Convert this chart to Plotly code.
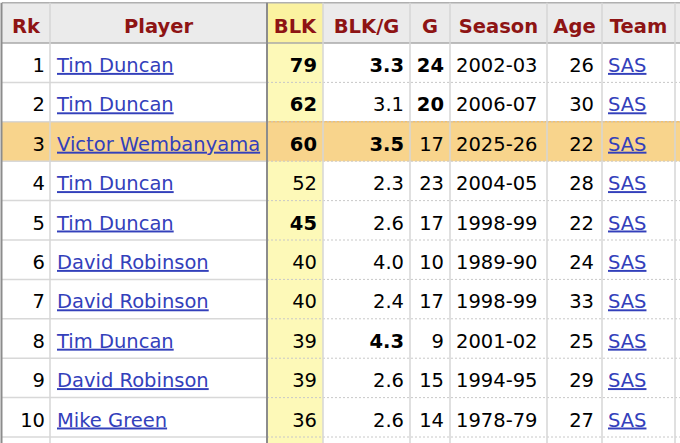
import plotly.graph_objects as go

# table data
rk = [1, 2, 3, 4, 5, 6, 7, 8, 9, 10]
players = ["Tim Duncan", "Tim Duncan", "Victor Wembanyama", "Tim Duncan", "Tim Duncan",
           "David Robinson", "David Robinson", "Tim Duncan", "David Robinson", "Mike Green"]
blk = [79, 62, 60, 52, 45, 40, 40, 39, 39, 36]
blk_per_g = [3.3, 3.1, 3.5, 2.3, 2.6, 4.0, 2.4, 4.3, 2.6, 2.6]
games = [24, 20, 17, 23, 17, 10, 17, 9, 15, 14]
seasons = ["2002-03", "2006-07", "2025-26", "2004-05", "1998-99",
           "1989-90", "1998-99", "2001-02", "1994-95", "1978-79"]
ages = [26, 30, 22, 28, 22, 24, 33, 25, 29, 27]
teams = ["SAS"] * 10
headers = ["Rk", "Player", "BLK", "BLK/G", "G", "Season", "Age", "Team"]

# which cells are shown in bold (leaders), and the highlighted row
blk_bold = [True, True, True, False, True, False, False, False, False, False]
bpg_bold = [True, False, True, False, False, False, False, True, False, False]
g_bold = [True, True, False, False, False, False, False, False, False, False]
current = [False, False, True, False, False, False, False, False, False, False]

# layout: column edges in px, rows in row units
edges = [2, 50, 267, 323, 410, 450, 547, 602, 675]
W, H = 680, 443
top = -0.52
bottom = 10.65
dy = 0.11  # nudge text down to sit like the browser baseline

FONT = "DejaVu Sans"
FS = 19.5
LINK = "#3340bb"
HEAD = "#8e1414"


def b(s, flag):
    return f"<b>{s}</b>" if flag else str(s)


def u(s):
    return f"<span style='text-decoration:underline'>{s}</span>"


fig = go.Figure()
shapes = []

# backgrounds
shapes.append(dict(type="rect", x0=edges[0], x1=W, y0=top, y1=0.5,
                   fillcolor="#ebebeb", line_width=0, layer="below"))
shapes.append(dict(type="rect", x0=edges[2], x1=edges[3], y0=top, y1=0.5,
                   fillcolor="#fbf2a0", line_width=0, layer="below"))
shapes.append(dict(type="rect", x0=edges[2], x1=edges[3], y0=0.5, y1=bottom,
                   fillcolor="#fdf9b8", line_width=0, layer="below"))
for r, cur in zip(rk, current):
    if cur:
        shapes.append(dict(type="rect", x0=edges[0], x1=W, y0=r - 0.5, y1=r + 0.5,
                           fillcolor="#f8d48c", line_width=0, layer="below"))
        shapes.append(dict(type="line", x0=edges[0], x1=W, y0=r - 0.5, y1=r - 0.5,
                           line=dict(color="#f0c070", width=1.5), layer="below"))

# horizontal rules
for r in rk:
    y = r + 0.5
    shapes.append(dict(type="line", x0=edges[0], x1=edges[2], y0=y, y1=y,
                       line=dict(color="#d8d8d8", width=1.5)))
    shapes.append(dict(type="line", x0=edges[2], x1=W, y0=y, y1=y,
                       line=dict(color="#c8c8c8", width=1, dash="2px,2px")))
shapes.append(dict(type="line", x0=edges[0], x1=W, y0=top, y1=top,
                   line=dict(color="#b0b0b0", width=1.5)))
shapes.append(dict(type="line", x0=edges[0], x1=W, y0=0.5, y1=0.5,
                   line=dict(color="#a8a8a8", width=1.5)))

# vertical rules
for i, x in enumerate(edges[1:], start=1):
    if i == 2:
        continue
    shapes.append(dict(type="line", x0=x, x1=x, y0=top, y1=bottom,
                       line=dict(color="#d6d6d6", width=1.5)))
shapes.append(dict(type="line", x0=edges[2], x1=edges[2], y0=top, y1=bottom,
                   line=dict(color="#8c8c8c", width=2)))
shapes.append(dict(type="line", x0=1.5, x1=1.5, y0=top, y1=bottom,
                   line=dict(color="#8c8c8c", width=2)))

# header labels
mids = [(edges[i] + edges[i + 1]) / 2 for i in range(len(headers))]
fig.add_trace(go.Scatter(x=mids, y=[dy] * len(headers), mode="text",
                         text=[f"<b>{h}</b>" for h in headers], textposition="middle center",
                         textfont=dict(family=FONT, size=FS, color=HEAD), hoverinfo="skip"))


def col(xs, texts, pos, color="#000000"):
    fig.add_trace(go.Scatter(x=[xs] * len(rk), y=[r + dy for r in rk], mode="text",
                             text=texts, textposition=pos, cliponaxis=False,
                             textfont=dict(family=FONT, size=FS, color=color),
                             hoverinfo="skip"))


col(edges[1] - 5, [str(r) for r in rk], "middle left")
col(edges[1] + 7, [u(p) for p in players], "middle right", LINK)
col(edges[3] - 6, [b(v, f) for v, f in zip(blk, blk_bold)], "middle left")
col(edges[4] - 6, [b(f"{v:.1f}", f) for v, f in zip(blk_per_g, bpg_bold)], "middle left")
col(edges[5] - 6, [b(v, f) for v, f in zip(games, g_bold)], "middle left")
col(edges[5] + 6, seasons, "middle right")
col(edges[7] - 8, [str(a) for a in ages], "middle left")
col(edges[7] + 6, [u(t) for t in teams], "middle right", LINK)

fig.update_layout(
    width=W, height=H,
    margin=dict(l=0, r=0, t=0, b=0),
    paper_bgcolor="white", plot_bgcolor="white",
    showlegend=False,
    shapes=shapes,
    xaxis=dict(range=[0, W], visible=False, fixedrange=True),
    yaxis=dict(range=[bottom + 0.002, -0.5914], visible=False, fixedrange=True),
)

fig.write_html("out.html", config={"displayModeBar": False},
               post_script="document.body.style.margin='0';")
